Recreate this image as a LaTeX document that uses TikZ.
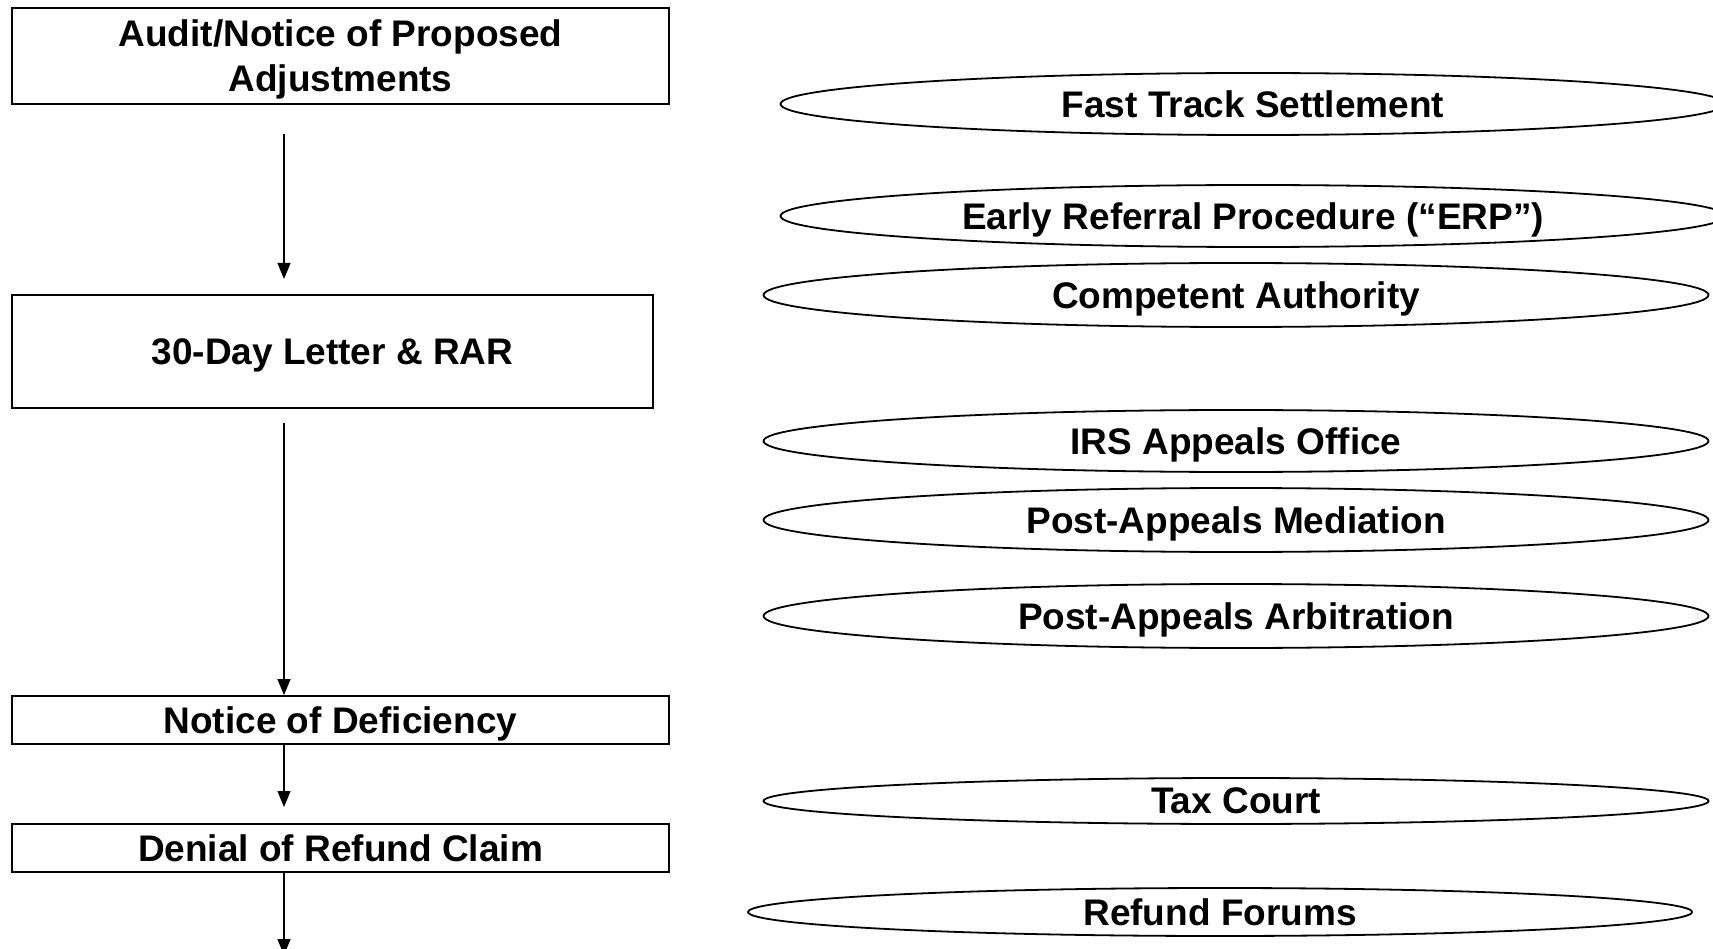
\documentclass[tikz,border=0pt]{standalone}
\usepackage{fontspec}
\setmainfont{Liberation Sans}
\usetikzlibrary{shapes.geometric,arrows.meta}
\begin{document}
\begin{tikzpicture}[x=1pt,y=-1pt,
  every node/.style={font=\fontsize{37}{45}\selectfont\bfseries,text depth=0pt},
  stage/.style={draw,line width=1.8pt,rectangle,inner sep=0pt,align=center},
  forum/.style={draw,line width=1.8pt,ellipse,inner sep=0pt,minimum height=62pt,minimum width=945pt},
  flow/.style={line width=1.4pt,-{Triangle[length=16pt,width=13pt]}}]
\useasboundingbox (0,0) rectangle (1713,949);
\clip (0,0) rectangle (1713,949);

% left column: procedural stages
\node[stage,minimum width=657pt,minimum height=96pt] (audit) at (340.5,56) {Audit/Notice of Proposed\\Adjustments};
\node[stage,minimum width=641pt,minimum height=113pt] (rar) at (332.5,351.5) {30-Day Letter \& RAR};
\node[stage,minimum width=657pt,minimum height=48pt] (nod) at (340.5,720) {Notice of Deficiency};
\node[stage,minimum width=657pt,minimum height=48pt] (denial) at (340.5,848) {Denial of Refund Claim};

\coordinate (a1s) at (284,134);
\coordinate (a1e) at (284,279);
\coordinate (a2s) at (284,423);
\coordinate (a3e) at (284,807);
\coordinate (a4e) at (284,955);

\draw[flow] (a1s) -- (a1e);
\draw[flow] (a2s) -- (nod.north -| a2s);
\draw[flow] (nod.south -| a2s) -- (a3e);
\draw[flow] (denial.south -| a2s) -- (a4e);

% right column: resolution forums
\node[forum] (fast) at (1253,104) {Fast Track Settlement};
\node[forum] (erp) at (1253,216) {Early Referral Procedure (“ERP”)};
\node[forum,minimum height=64pt] (ca) at (1236,295) {Competent Authority};
\node[forum] (irs) at (1236,441) {IRS Appeals Office};
\node[forum,minimum height=64pt] (med) at (1236,520) {Post-Appeals Mediation};
\node[forum,minimum height=64pt] (arb) at (1236,616) {Post-Appeals Arbitration};
\node[forum,minimum height=46pt] (tax) at (1236,801) {Tax Court};
\node[forum,minimum height=48pt,minimum width=944pt] (refund) at (1220,912) {Refund Forums};
\end{tikzpicture}
\end{document}
